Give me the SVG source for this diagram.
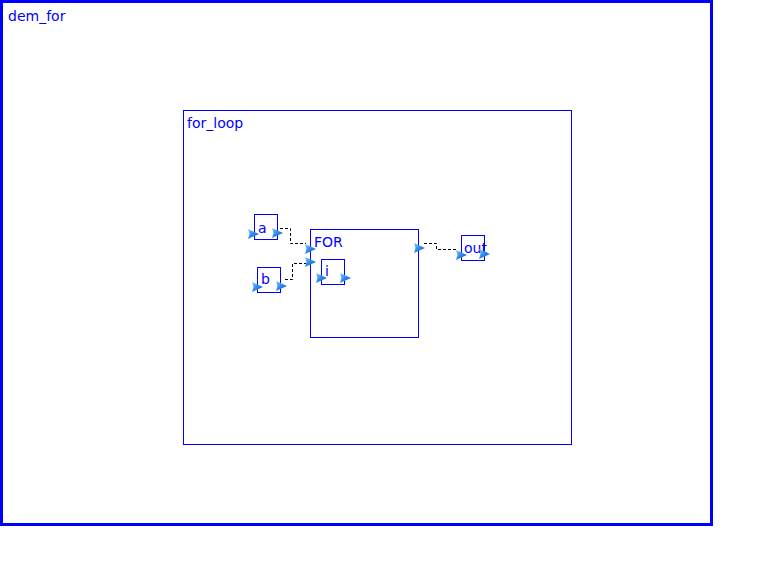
<svg xmlns="http://www.w3.org/2000/svg" width="764" height="577" viewBox="0 0 764 577">
<defs>
<linearGradient id="pg" x1="0" y1="0" x2="1" y2="1">
<stop offset="0" stop-color="#8cc8ff"/>
<stop offset="0.45" stop-color="#2f8ef0"/>
<stop offset="1" stop-color="#0d4fc0"/>
</linearGradient>
<polygon id="port" points="0,0 11,5 0,10 1.5,5" fill="url(#pg)"/>
</defs>
<style>
.box{fill:none;stroke:#0000ff;stroke-width:1}
.lbl{font-family:"DejaVu Sans","Open Sans",sans-serif;font-size:14px;fill:#0000ff}
.conn{fill:none;stroke:#000;stroke-width:1;stroke-dasharray:3,2}
</style>
<rect width="764" height="577" fill="#fff"/>
<g id="dem_for">
<rect x="1.5" y="1.5" width="710" height="523" fill="none" stroke="#0000ff" stroke-width="3"/>
<text class="lbl" x="8" y="21">dem_for</text>
</g>
<g id="for_loop">
<rect class="box" x="183.5" y="110.5" width="388" height="334"/>
<text class="lbl" x="187" y="128">for_loop</text>
</g>
<g id="connectors">
<polyline class="conn" points="280,228.5 290.5,228.5 290.5,243.5 306,243.5"/>
<polyline class="conn" points="285,279.5 292.5,279.5 292.5,263.5 306,263.5"/>
<polyline class="conn" points="424,243.5 436.5,243.5 436.5,249.5 457,249.5"/>
</g>
<g id="a">
<rect class="box" x="254.5" y="214.5" width="23" height="25"/>
<text class="lbl" x="258" y="233">a</text>
<use href="#port" x="248" y="229"/>
<use href="#port" x="272" y="228"/>
</g>
<g id="b">
<rect class="box" x="257.5" y="267.5" width="23" height="25"/>
<text class="lbl" x="261" y="284">b</text>
<use href="#port" x="252" y="282"/>
<use href="#port" x="276" y="281"/>
</g>
<g id="FOR">
<rect class="box" x="310.5" y="229.5" width="108" height="108"/>
<text class="lbl" x="314" y="247">FOR</text>
<use href="#port" x="305" y="244"/>
<use href="#port" x="305" y="257"/>
<use href="#port" x="414" y="243"/>
</g>
<g id="i">
<rect class="box" x="321.5" y="259.5" width="23" height="25"/>
<text class="lbl" x="325" y="276">i</text>
<use href="#port" x="316" y="273"/>
<use href="#port" x="340" y="273"/>
</g>
<g id="out">
<rect class="box" x="461.5" y="235.5" width="23" height="25"/>
<text class="lbl" x="464" y="253">out</text>
<use href="#port" x="456" y="250"/>
<use href="#port" x="479" y="249"/>
</g>
</svg>
